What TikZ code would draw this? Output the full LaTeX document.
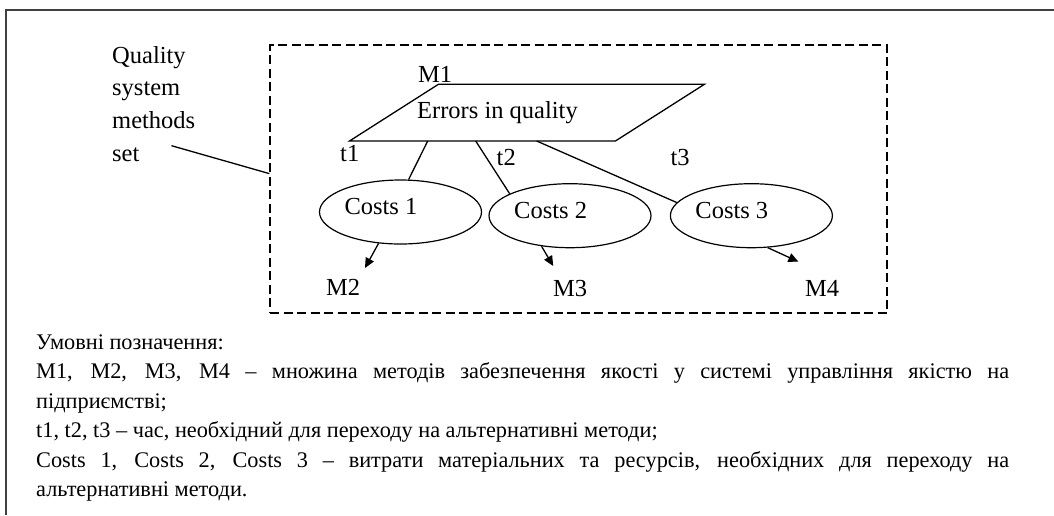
\documentclass[tikz,border=0pt]{standalone}
\usepackage{fontspec}
\setmainfont{Liberation Serif}
\usetikzlibrary{arrows.meta,shapes.geometric}
\newcommand{\diagfont}{\fontsize{24.5pt}{32.6pt}\selectfont}
\newcommand{\legfont}{\fontsize{22.3pt}{29.5pt}\selectfont}
\begin{document}
\begin{tikzpicture}[x=1pt,y=-1pt,
  lbl/.style={inner sep=0pt, anchor=base west, font=\diagfont},
  leg/.style={inner sep=0pt, anchor=base west, font=\legfont},
  costbox/.style={ellipse, draw, line width=1.2pt, minimum width=162pt, minimum height=64pt, inner sep=0pt},
  conn/.style={line width=1.3pt},
  arr/.style={line width=1.3pt, -{Triangle[length=10pt,width=9pt]}},
  framebox/.style={draw, line width=1.3pt, dash pattern=on 9pt off 4.5pt, inner sep=0pt},
]
\fill[white] (0,0) rectangle (1054,515);
\useasboundingbox (0,0) rectangle (1054,515);
% outer frame
\draw[line width=2pt, black!75] (1054,10) -- (6,10) -- (6,515);
% dashed set box
\node[framebox, minimum width=617pt, minimum height=268pt] (set) at (578.5,179) {};
% quality label and callout
\node[lbl] (q1) at (112,63.3) {Quality};
\node[lbl] (q2) at (112,95.7) {system};
\node[lbl] (q3) at (112,128.3) {methods};
\node[lbl] (q4) at (112,161) {set};
\coordinate (qs) at (171.5,145.7);
\draw[conn] (qs) -- (set.179.13);
% parallelogram
\coordinate (ptl) at (438.4,84.3);
\coordinate (ptr) at (704.4,84.3);
\coordinate (pbr) at (615.4,141);
\coordinate (pbl) at (349.5,141);
\draw[line width=1.3pt, line join=miter] (ptl) -- (ptr) -- (pbr) -- (pbl) -- cycle;
\node[lbl] (err) at (417,118) {Errors in quality};
\node[lbl] (m1) at (418,82.3) {M1};
% time labels
\node[lbl] (t1) at (340,161) {t1};
\node[lbl] (t2) at (496.5,165) {t2};
\node[lbl] (t3) at (670.3,165) {t3};
% cost ellipses
\node[costbox] (c1) at (400.5,212) {};
\node[costbox] (c2) at (570,215.7) {};
\node[costbox] (c3) at (751.4,215.7) {};
\node[lbl] (c1t) at (344.3,214) {Costs 1};
\node[lbl] (c2t) at (514,218.3) {Costs 2};
\node[lbl] (c3t) at (695.2,218) {Costs 3};
% connectors
\coordinate (e1) at (427.7,141);
\coordinate (e2) at (475.7,141);
\coordinate (e3) at (536.7,141);
\draw[conn] (e1) -- (c1.76.8);
\draw[conn] (e2) -- (c2.160.7);
\draw[conn] (e3) -- (c3.170.7);
% arrows to method sets
\coordinate (a2) at (365,268);
\coordinate (a3) at (553.2,266);
\coordinate (a4) at (798.4,261.7);
\draw[arr] (c1.-125.5) -- (a2);
\draw[arr] (c2.-133.7) -- (a3);
\draw[arr] (c3.-63.3) -- (a4);
\node[lbl] (m2) at (326,295) {M2};
\node[lbl] (m3) at (553,296) {M3};
\node[lbl] (m4) at (805,296) {M4};
% legend
\node[leg] (l1) at (36,349) {Умовні позначення:};
\node[leg] (l2) at (36,378.5) {\makebox[973pt][s]{M1, M2, M3, M4 – множина методів забезпечення якості у системі управління якістю на}};
\node[leg] (l3) at (36,408) {підприємстві;};
\node[leg] (l4) at (36,437.5) {t1, t2, t3 – час, необхідний для переходу на альтернативні методи;};
\node[leg] (l5) at (36,467) {\makebox[973pt][s]{Costs 1, Costs 2, Costs 3 – витрати матеріальних та ресурсів, необхідних для переходу на}};
\node[leg] (l6) at (36,496.5) {альтернативні методи.};
\end{tikzpicture}
\end{document}
